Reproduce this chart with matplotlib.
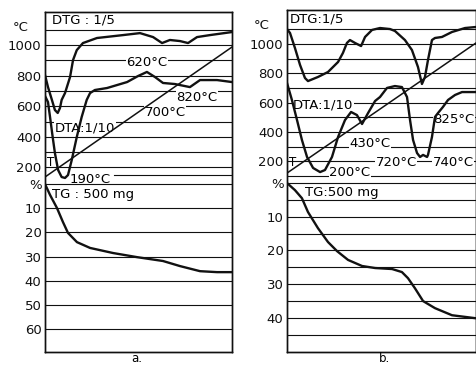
import matplotlib
matplotlib.use('Agg')
import matplotlib.pyplot as plt

# run progress (0..100) and readings, panel a
a_T_run = [0, 100]
a_T_val = [137, 987]

a_dtg_x = [0, 1.6, 3.7, 5.3, 6.8, 8.0, 8.9, 10.7, 13.4, 15.0, 17.0, 20.3, 27.8, 41.7,
           50.8, 57.8, 62.6, 66.8, 72.2, 76.5, 81.3, 88.2, 100]
a_dtg_y = [804, 725, 641, 575, 556, 588, 641, 686, 791, 902, 967, 1013, 1046, 1065,
           1078, 1052, 1013, 1033, 1026, 1013, 1052, 1065, 1085]

a_dta_x = [0, 1.6, 2.7, 4.1, 5.3, 7.0, 8.9, 10.7, 12.3, 14.3, 17.0, 19.6, 22.3,
           24.1, 26.7, 33.2, 43.9, 49.7, 54.5, 58.8, 63.1, 69.5, 77.5, 82.9, 92.0, 100]
a_dta_y = [667, 627, 529, 399, 294, 183, 137, 131, 150, 248, 399, 529, 641,
           686, 706, 719, 758, 797, 824, 791, 752, 745, 725, 771, 771, 758]

a_tg_x = [0, 2.7, 6.4, 9.6, 12.3, 17.1, 24.1, 36.4, 49.2, 63.1, 72.2, 82.9, 92.0, 100]
a_tg_y = [0, 4.5, 9.9, 15.7, 20.2, 24, 26.4, 28.5, 30.2, 31.8, 33.9, 36, 36.4, 36.4]

a_grid_T = [1100, 1000, 900, 800, 700, 600, 500, 400, 300, 200]
a_grid_pct = [0, 10, 20, 30, 40, 50, 60]
a_ticks_T = [1000, 800, 600, 400, 200]
a_ticks_pct = [0, 10, 20, 30, 40, 50, 60]

# panel b
b_T_run = [0, 100]
b_T_val = [119, 1007]

b_dtg_x = [0, 1.6, 4.2, 6.9, 9.5, 11.1, 16.4, 21.7, 27.0, 29.6, 31.7, 33.3, 36.0,
           39.2, 41.3, 45.0, 49.2, 54.5, 57.1, 62.4, 66.1, 69.3, 71.4, 73.0, 74.6,
           76.7, 78.3, 82.0, 87.3, 94.2, 100]
b_dtg_y = [1102, 1075, 973, 857, 768, 747, 775, 809, 877, 939, 1007, 1027, 1007,
           986, 1048, 1096, 1109, 1102, 1089, 1027, 959, 843, 727, 775, 891,
           1027, 1041, 1048, 1082, 1109, 1116]

b_dta_x = [0, 2.6, 5.3, 7.9, 10.6, 13.8, 17.5, 20.1, 23.8, 27.0, 30.7, 33.9, 37.0,
           39.7, 42.9, 46.6, 49.2, 52.9, 57.1, 60.8, 63.5, 65.1, 66.7, 68.8, 70.4,
           72.0, 74.1, 74.6, 76.7, 78.3, 79.9, 82.5, 85.2, 88.9, 92.6, 100]
b_dta_y = [734, 618, 481, 345, 229, 154, 126, 140, 229, 365, 481, 536, 515,
           454, 529, 611, 638, 700, 713, 706, 638, 481, 345, 256, 229,
           243, 229, 243, 365, 502, 529, 570, 618, 652, 672, 672]

b_tg_x = [0, 4.2, 7.9, 11.1, 16.4, 21.7, 26.5, 32.3, 39.7, 46.6, 55.6, 60.8, 64.0,
          67.7, 72.0, 78.3, 87.3, 100]
b_tg_y = [0, 2.1, 4.5, 8.6, 13.4, 17.5, 20.2, 22.8, 24.6, 25.2, 25.5, 26.4, 28.2,
          31.2, 35, 37.1, 39.2, 40.1]

b_grid_T = [1100, 1000, 900, 800, 700, 600, 500, 400, 300, 200, 100]
b_grid_pct = [0, 5, 10, 15, 20, 25, 30, 35, 40, 45]
b_ticks_T = [1000, 800, 600, 400, 200]
b_ticks_pct = [0, 10, 20, 30, 40]

W, H = 477, 365
fig = plt.figure(figsize=(W / 100, H / 100), dpi=100)

FS = 9.5
INK = '#111111'
WB = dict(fc='white', ec='none', pad=0.6)


def panel(box, Tlim, plim, grid_T, grid_pct, ticks_T, ticks_pct,
          T_run, T_val, dtg, dta, tg):
    l, t, r, b = box
    ax = fig.add_axes([l / W, 1 - b / H, (r - l) / W, (b - t) / H])
    ax.set_xlim(0, 100)
    ax.set_ylim(*Tlim)
    ax2 = ax.twinx()
    ax2.set_ylim(*plim)
    for a in (ax, ax2):
        a.set_xticks([])
        for s in a.spines.values():
            s.set_linewidth(1.0)
            s.set_color(INK)
    ax2.yaxis.tick_left()
    ax.set_yticks(ticks_T)
    ax.set_yticklabels([str(v) for v in ticks_T])
    ax2.set_yticks(ticks_pct)
    ax2.set_yticklabels(['%'] + [str(v) for v in ticks_pct[1:]])
    for a in (ax, ax2):
        a.tick_params(axis='y', length=0, pad=2.5, labelsize=FS, labelcolor=INK)
    ax.text(-0.09, 0.975, '°C', transform=ax.transAxes, ha='right', va='top',
            fontsize=FS, color=INK)
    for v in grid_T:
        ax.axhline(v, color=INK, lw=0.8, zorder=1)
    for v in grid_pct:
        ax2.axhline(v, color=INK, lw=0.8, zorder=1)
    ax.plot(T_run, T_val, color=INK, lw=1.1, zorder=3)
    ax.plot(dtg[0], dtg[1], color=INK, lw=1.7, zorder=3, solid_joinstyle='round')
    ax.plot(dta[0], dta[1], color=INK, lw=1.7, zorder=3, solid_joinstyle='round')
    ax2.plot(tg[0], tg[1], color=INK, lw=1.7, zorder=3, solid_joinstyle='round')
    return ax, ax2


ax, ax2 = panel((45, 12, 232, 352), (-1007, 1216), (69.4, -71.1),
                a_grid_T, a_grid_pct, a_ticks_T, a_ticks_pct,
                a_T_run, a_T_val, (a_dtg_x, a_dtg_y), (a_dta_x, a_dta_y),
                (a_tg_x, a_tg_y))
ax.axhline(150, xmin=0.37, xmax=1, color=INK, lw=0.8, zorder=1)
ax.text(3.7, 1163, 'DTG : 1/5', fontsize=FS, va='center', ha='left', bbox=WB, zorder=2)
ax.text(5.3, 458, 'DTA:1/10', fontsize=FS, va='center', ha='left', bbox=WB, zorder=2)
ax.text(54.5, 889, '620°C', fontsize=FS, va='center', ha='center', bbox=WB, zorder=2)
ax.text(64.2, 562, '700°C', fontsize=FS, va='center', ha='center', bbox=WB, zorder=2)
ax.text(81.3, 660, '820°C', fontsize=FS, va='center', ha='center', bbox=WB, zorder=2)
ax.text(13.4, 124, '190°C', fontsize=FS, va='center', ha='left', bbox=WB, zorder=2)
ax.text(1.2, 229, 'T', fontsize=FS - 1, va='center', ha='left', zorder=2)
ax2.text(3.7, 4.5, 'TG : 500 mg', fontsize=FS, va='center', ha='left', bbox=WB, zorder=2)

bx, bx2 = panel((287, 10, 476, 352), (-1102, 1232), (50.1, -51.3),
                b_grid_T, b_grid_pct, b_ticks_T, b_ticks_pct,
                b_T_run, b_T_val, (b_dtg_x, b_dtg_y), (b_dta_x, b_dta_y),
                (b_tg_x, b_tg_y))
bx.text(1.6, 1171, 'DTG:1/5', fontsize=FS, va='center', ha='left', bbox=WB, zorder=2)
bx.text(3.2, 584, 'DTA:1/10', fontsize=FS, va='center', ha='left', bbox=WB, zorder=2)
bx.text(43.9, 324, '430°C', fontsize=FS, va='center', ha='center', bbox=WB, zorder=2)
bx.text(33.3, 126, '200°C', fontsize=FS, va='center', ha='center', bbox=WB, zorder=2)
bx.text(57.7, 188, '720°C', fontsize=FS, va='center', ha='center', bbox=WB, zorder=2)
bx.text(87.8, 188, '740°C', fontsize=FS, va='center', ha='center', bbox=WB, zorder=2)
bx.text(88.4, 488, '825°C', fontsize=FS, va='center', ha='center', bbox=WB, zorder=2)
bx.text(1.2, 188, 'T', fontsize=FS - 1, va='center', ha='left', zorder=2)
bx2.text(9.5, 2.7, 'TG:500 mg', fontsize=FS, va='center', ha='left', bbox=WB, zorder=2)

# panel letters sit just under the frames
fig.text(137 / W, 0.5 / H, 'a.', fontsize=8.5, ha='center', va='bottom')
fig.text(385 / W, 0.5 / H, 'b.', fontsize=8.5, ha='center', va='bottom')

fig.savefig('out.png', dpi=100)
